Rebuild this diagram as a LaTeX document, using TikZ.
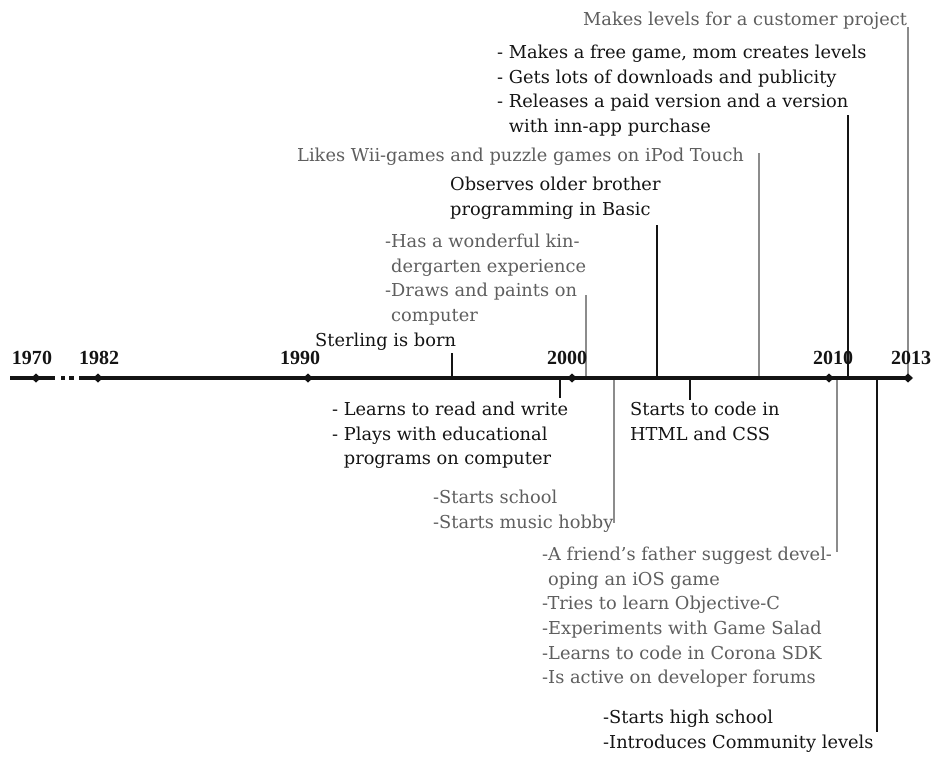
\documentclass[tikz,border=0pt]{standalone}
\usepackage{fontspec}
\setmainfont{Liberation Serif}
\newfontfamily\evfamily{DejaVu Serif}
\usepackage{tikz}
\definecolor{ink}{HTML}{141414}
\definecolor{inkgray}{HTML}{5E5E5E}
\definecolor{linegray}{HTML}{8C8C8C}
\newcommand{\evfont}{\evfamily\fontsize{17.8}{24.6}\selectfont}
\tikzset{
  event/.style={anchor=north west,inner sep=0pt,align=left,font=\evfont,text=ink},
  grayevent/.style={event,text=inkgray},
  yearlabel/.style={anchor=base,inner sep=0pt,font=\fontsize{20}{20}\selectfont\bfseries,text=ink},
  axisline/.style={line width=4pt,color=ink},
  tickline/.style={line width=1.4pt,color=ink},
  graytick/.style={line width=1.2pt,color=linegray}
}

\begin{document}
\begin{tikzpicture}[x=1pt,y=-1pt]
  \useasboundingbox (0,0) rectangle (933,758);

  % events above the axis
  \node[grayevent] (customer) at (583,12) {Makes levels for a customer project};
  \node[event] (freegame) at (497,45) {- Makes a free game, mom creates levels\\
    - Gets lots of downloads and publicity\\
    - Releases a paid version and a version\\
    \phantom{- }with inn-app purchase};
  \node[grayevent] (wii) at (297,148) {Likes Wii-games and puzzle games on iPod Touch};
  \node[event] (brother) at (450,177) {Observes older brother\\programming in Basic};
  \node[grayevent] (kinder) at (385,234) {-Has a wonderful kin-\\
    \phantom{-}dergarten experience\\
    -Draws and paints on\\
    \phantom{-}computer};
  \node[event] (born) at (315,333) {Sterling is born};

  % events below the axis
  \node[event] (reads) at (332,402) {- Learns to read and write\\
    - Plays with educational\\
    \phantom{- }programs on computer};
  \node[grayevent] (school) at (433,490) {-Starts school\\-Starts music hobby};
  \node[event] (html) at (630,402) {Starts to code in\\HTML and CSS};
  \node[grayevent] (ios) at (542,547) {-A friend’s father suggest devel-\\
    \phantom{-}oping an iOS game\\
    -Tries to learn Objective-C\\
    -Experiments with Game Salad\\
    -Learns to code in Corona SDK\\
    -Is active on developer forums};
  \node[event] (high) at (603,710) {-Starts high school\\-Introduces Community levels};

  % ticks: name/x/end
  \foreach \n/\x/\e in {born/452/353, brother/657/225, freegame/848/115,
                        reads/560/398, html/690/400, high/877/732}{
    \coordinate (\n-a) at (\x,378);
    \coordinate (\n-e) at (\x,\e);
    \draw[tickline] (\n-a) -- (\n-e);
  }
  \foreach \n/\x/\e in {kinder/586/295, wii/759/153, customer/908/27,
                        school/614/523, ios/837/552}{
    \coordinate (\n-a) at (\x,378);
    \coordinate (\n-e) at (\x,\e);
    \draw[graytick] (\n-a) -- (\n-e);
  }

  % the axis
  \coordinate (ax0) at (10,378);
  \coordinate (ax1) at (55,378);
  \coordinate (ax2) at (79,378);
  \coordinate (ax3) at (908,378);
  \draw[axisline] (ax0) -- (ax1);
  \draw[axisline] (61,378) -- (65,378) (69,378) -- (74,378);
  \draw[axisline] (ax2) -- (ax3);
  \foreach \yr/\x/\lx in {1970/36/32, 1982/98/99, 1990/308/300,
                          2000/572/567, 2010/829/833, 2013/908/911}{
    \fill[ink] (\x,378) ++(-5,0) -- ++(5,-4.5) -- ++(5,4.5) -- ++(-5,4.5) -- cycle;
    \node[yearlabel] (y\yr) at (\lx,364) {\yr};
  }
\end{tikzpicture}
\end{document}
